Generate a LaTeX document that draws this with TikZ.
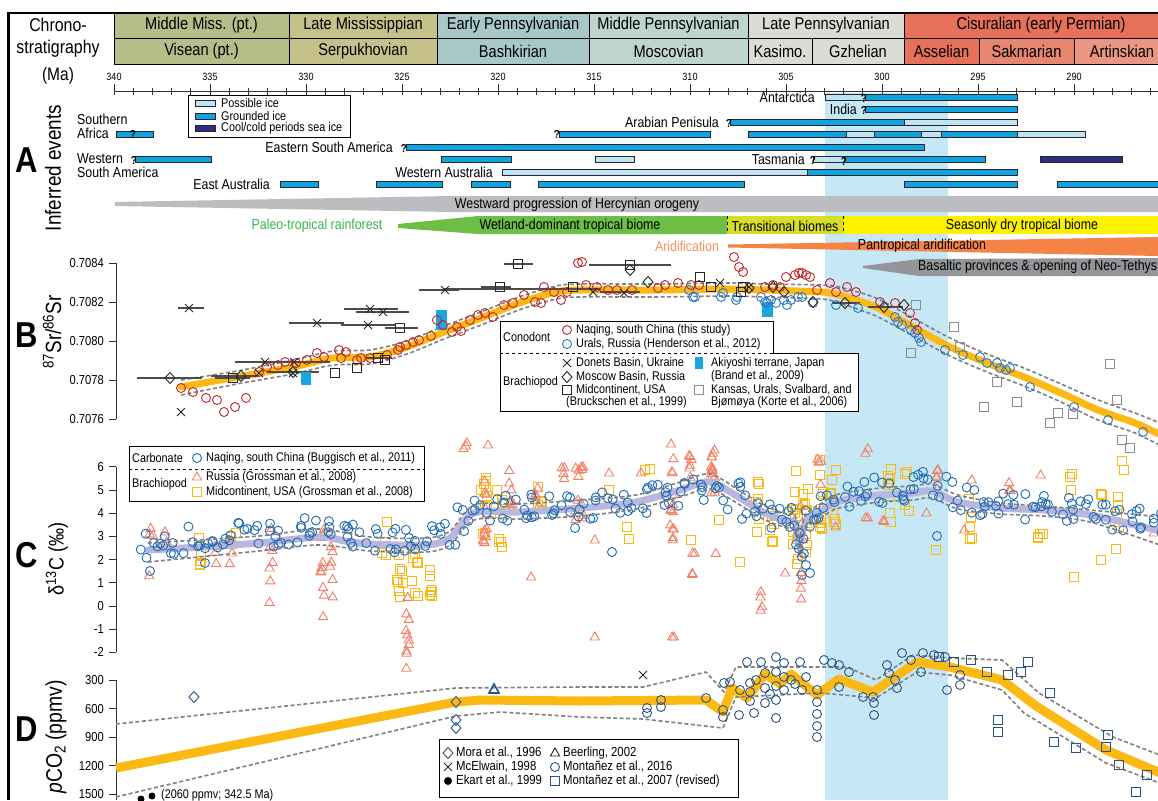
\documentclass[tikz,border=0pt]{standalone}
\usepackage{fontspec}
\setmainfont{Liberation Sans}[FakeStretch=0.86]

\definecolor{missA}{HTML}{B5BD88}
\definecolor{missB}{HTML}{C6C08A}
\definecolor{pennA}{HTML}{A8C7C8}
\definecolor{pennB}{HTML}{BDD5CE}
\definecolor{pennC}{HTML}{D9DCD7}
\definecolor{permA}{HTML}{E6705A}
\definecolor{permB}{HTML}{E8856F}
\definecolor{permC}{HTML}{EA9683}
\definecolor{possice}{HTML}{BFE4F6}
\definecolor{grdice}{HTML}{0FA4E1}
\definecolor{seaice}{HTML}{2B2E83}
\definecolor{band}{HTML}{C6E7F6}
\definecolor{hercyn}{HTML}{BCBDC0}
\definecolor{wetland}{HTML}{6DBE45}
\definecolor{transit}{HTML}{D7DE27}
\definecolor{dryb}{HTML}{FFF200}
\definecolor{rainf}{HTML}{39B54A}
\definecolor{arid}{HTML}{F58345}
\definecolor{aridtxt}{HTML}{F7935B}
\definecolor{basalt}{HTML}{939598}
\definecolor{srcurve}{HTML}{FDB913}
\definecolor{ccurve}{HTML}{BAB7DE}
\definecolor{naq}{HTML}{C1272D}
\definecolor{ural}{HTML}{2B78C5}
\definecolor{cblue}{HTML}{1E6CB4}
\definecolor{ctri}{HTML}{F47F67}
\definecolor{csq}{HTML}{FDB913}
\definecolor{dblue}{HTML}{2A5485}
\definecolor{akiy}{HTML}{1AA6E0}

\tikzset{
  cellbox/.style={draw=black, line width=0.7pt},
  celltxt/.style={font=\fontsize{17}{17}\selectfont, inner sep=0pt},
  axtick/.style={line width=0.7pt, draw=black!80},
  ticklab/.style={font=\fontsize{10.5}{10.5}\selectfont, inner sep=1pt},
  ylab/.style={font=\fontsize{13}{13}\selectfont, anchor=east, inner sep=1pt},
  bigl/.style={font=\bfseries\fontsize{36}{36}\selectfont, inner sep=0pt},
  axname/.style={font=\fontsize{22}{22}\selectfont, rotate=90, inner sep=0pt},
  evt/.style={font=\fontsize{14.4}{14.4}\selectfont, inner sep=1pt},
  legt/.style={font=\fontsize{12.6}{12.6}\selectfont, anchor=west, inner sep=1pt},
  icebar/.style={draw=black!85, line width=0.6pt},
  pice/.style={icebar, fill=possice},
  gice/.style={icebar, fill=grdice},
  sice/.style={icebar, fill=seaice},
  qm/.style={font=\bfseries\fontsize{11.5}{11.5}\selectfont, inner sep=0pt},
  dashband/.style={draw=black!50, line width=1.6pt, dash pattern=on 4pt off 2.5pt},
  rcirc/.style={draw=naq, line width=0.9pt},
  bcirc/.style={draw=ural, line width=0.9pt},
  cbl/.style={draw=cblue, line width=0.9pt},
  ctm/.style={draw=ctri, line width=0.9pt},
  csm/.style={draw=csq, line width=0.9pt},
  kmk/.style={draw=black!85, line width=0.9pt},
  gsq/.style={draw=black!45, line width=0.9pt},
  dmk/.style={draw=dblue, line width=0.9pt},
  ebar/.style={draw=black!70, line width=1.3pt},
}

\newcommand{\mkC}[2]{\draw[#1] #2 circle (4.5pt);}
\newcommand{\mkS}[2]{\draw[#1] #2 ++(-4.5pt,-4.5pt) rectangle ++(9pt,9pt);}
\newcommand{\mkT}[2]{\draw[#1] #2 ++(0pt,5pt) -- ++(4.6pt,-8pt) -- ++(-9.2pt,0pt) -- cycle;}
\newcommand{\mkD}[2]{\draw[#1] #2 ++(0pt,5.5pt) -- ++(5pt,-5.5pt) -- ++(-5pt,-5.5pt) -- ++(-5pt,5.5pt) -- cycle;}
\newcommand{\mkX}[2]{\draw[#1] #2 ++(-4pt,-4pt) -- ++(8pt,8pt) ++(-8pt,0pt) -- ++(8pt,-8pt);}

\begin{document}
\begin{tikzpicture}[x=1pt, y=-1pt]
  \clip (0,0) rectangle (1158,800);
  \fill[white] (0,0) rectangle (1158,800);
  \pgfmathsetseed{12}

  \fill[band] (825,93) rectangle (948,800);

  % chronostratigraphy
  \foreach \a/\b/\c/\t [count=\i] in {114/289/missA/Middle Miss. (pt.), 289/437/missB/Late Mississippian, 437/589/pennA/Early Pennsylvanian, 589/748/pennB/Middle Pennsylvanian, 748/904/pennC/Late Pennsylvanian, 904/1178/permA/Cisuralian (early Permian)}
  {\draw[cellbox, fill=\c] (\a,13) rectangle (\b,38);
   \node[celltxt] (ser\i) at ({(\a+\b)/2},25.5) {\t};}
  \foreach \a/\b/\c/\t [count=\i] in {114/289/missA/Visean (pt.), 289/437/missB/Serpukhovian, 437/589/pennA/Bashkirian, 589/748/pennB/Moscovian, 748/812/pennC/Kasimo., 812/904/pennC/Gzhelian, 904/979/permA/Asselian, 979/1074/permB/Sakmarian, 1074/1170/permC/Artinskian}
  {\draw[cellbox, fill=\c] (\a,38) rectangle (\b,64);
   \node[celltxt] (stg\i) at ({(\a+\b)/2},51) {\t};}
  \node[font=\fontsize{18.5}{22}\selectfont, align=center] (chrono) at (58,38) {Chrono-\\stratigraphy};
  \node[font=\fontsize{18}{18}\selectfont] (maunit) at (58,76) {(Ma)};
  \draw[line width=3pt] (8,12) -- (8,800);
  \draw[line width=1.8pt] (7,13) -- (1158,13);

  \draw[axtick] (114,91) -- (1158,91);
  \foreach \t in {0,...,55} {\draw[axtick] ({114+19.2*\t},87.5) -- ++(0,7);}
  \foreach \m in {340,335,...,285}
  {\draw[axtick] ({114+19.2*(340-\m)},84) -- ++(0,10);
   \node[ticklab] (ma\m) at ({114+19.2*(340-\m)},77) {\m};}

  % A: inferred events
  \node[bigl] (la) at (27,160) {A};
  \node[axname] (infer) at (53,168) {Inferred events};

  \draw[line width=0.7pt, fill=white] (188,95) rectangle (350,137);
  \draw[pice] (195,100) rectangle (215,106);
  \node[legt] (lpos) at (220,103) {Possible ice};
  \draw[gice] (195,113) rectangle (215,119);
  \node[legt] (lgrd) at (220,116) {Grounded ice};
  \draw[sice] (195,125) rectangle (215,131);
  \node[legt] (lsea) at (220,128) {Cool/cold periods sea ice};

  \foreach \a/\b/\y/\s in {825/865/97/pice, 865/1017/97/gice, 865/1017/109.5/gice, 730/904/122/gice, 904/1017/122/pice,
    116/153/134.5/gice, 559/710/134.5/gice, 748/846/134.5/gice, 846/874/134.5/pice, 874/921/134.5/gice, 921/941/134.5/pice, 941/1017/134.5/gice, 1017/1085/134.5/pice,
    406/924/147/gice,
    135/211/159.5/gice, 441/511/159.5/gice, 595/634/159.5/pice, 813/844/159.5/pice, 844/985/159.5/gice, 1040/1122/159.5/sice,
    502/807/172/pice, 807/1017/172/gice,
    280/318/184/gice, 376/442/184/gice, 471/510/184/gice, 538/744/184/gice, 904/1017/184/gice, 1057/1175/184/gice}
  {\draw[\s] (\a,\y-3) rectangle (\b,\y+3);}

  \foreach \x/\y [count=\i] in {133/134, 134/160, 404/148, 557/134, 864/98, 864/110, 729/123, 813/160, 844/161}
  {\node[qm] (q\i) at (\x,\y) {?};}

  \node[evt, anchor=west] (south1) at (76,119) {Southern};
  \node[evt, anchor=west] (south2) at (76,133) {Africa};
  \node[evt, anchor=east] (esam) at (394,147) {Eastern South America};
  \node[evt, anchor=west] (wsam1) at (76,159) {Western};
  \node[evt, anchor=west] (wsam2) at (76,172) {South America};
  \node[evt, anchor=east] (waus) at (494,172) {Western Australia};
  \node[evt, anchor=east] (eaus) at (271,184) {East Australia};
  \node[evt, anchor=east] (arab) at (720,122) {Arabian Penisula};
  \node[evt, anchor=east] (anta) at (816,97) {Antarctica};
  \node[evt, anchor=east] (indi) at (858,109) {India};
  \node[evt, anchor=east] (tasm) at (806,159) {Tasmania};

  \fill[hercyn] (115,202) -- (450,196) -- (1158,196) -- (1158,212) -- (450,212) -- (115,206) -- cycle;
  \node[evt] (herc) at (577,205) {Westward progression of Hercynian orogeny};

  \node[evt, text=rainf] (rain) at (317,226) {Paleo-tropical rainforest};
  \fill[wetland] (398,224) -- (478,216) -- (727,216) -- (727,234) -- (478,234) -- (398,228) -- cycle;
  \fill[transit] (727,216) rectangle (843,234);
  \fill[dryb] (843,216) rectangle (1158,234);
  \draw[dashed, line width=0.6pt] (727,216) -- (727,234) (843,216) -- (843,234);
  \node[evt] (wetl) at (570,226) {Wetland-dominant tropical biome};
  \node[evt] (trans) at (785,226) {Transitional biomes};
  \node[evt] (sdry) at (1022,226) {Seasonly dry tropical biome};

  \node[evt, text=aridtxt] (aridt) at (687,246) {Aridification};
  \fill[arid] (728,244.5) -- (1158,237) -- (1158,256) -- (728,247.5) -- cycle;
  \node[evt] (pant) at (922,246) {Pantropical aridification};

  \fill[basalt] (863,266) -- (919,259) -- (1158,258) -- (1158,276) -- (919,276) -- (863,268) -- cycle;
  \node[evt, anchor=west] (basa) at (917,267) {Basaltic provinces \& opening of Neo-Tethys};

  % B: strontium
  \node[bigl] (lb) at (27,335) {B};
  \node[axname] (srlab) at (52,332) {\textsuperscript{87}Sr/\textsuperscript{86}Sr};
  \draw[axtick] (116,263) -- (116,419);
  \foreach \v/\l in {0/0.7084, 1/0.7082, 2/0.7080, 3/0.7078, 4/0.7076}
  {\draw[axtick] (109,263+39*\v) -- (116,263+39*\v);
   \node[ylab] (sr\v) at (105,263+39*\v) {\l};}

  \draw[srcurve, line width=7pt, line cap=round] plot[smooth] coordinates {(181,387) (237,377) (293,367) (333,358) (370,357) (407,347) (444,332) (481,318) (519,303) (556,292) (580,290) (654,290) (728,289) (765,290) (821,292) (839,295) (876,307) (913,327) (950,347) (987,363) (1024,377) (1061,393) (1098,410) (1135,423) (1165,437)};
  \draw[dashband] plot[smooth] coordinates {(181,380) (237,371) (293,360) (333,351) (370,350) (407,341) (444,326) (481,312) (519,297) (556,286) (580,284) (654,284) (728,283) (765,284) (821,285) (839,287) (876,298) (913,318) (950,338) (987,354) (1024,368) (1061,384) (1098,400) (1135,413) (1165,425)};
  \draw[dashband] plot[smooth] coordinates {(181,395) (237,384) (293,374) (333,365) (370,364) (407,354) (444,339) (481,325) (519,310) (556,299) (580,297) (654,297) (728,296) (765,297) (821,299) (839,303) (876,316) (913,336) (950,356) (987,372) (1024,386) (1061,402) (1098,420) (1135,433) (1165,448)};

  \foreach \y/\a/\b in {308/178/204, 323/289/344, 309/344/398, 312/356/409, 325/341/396, 362/235/311, 362/240/330, 290/419/459, 289/444/600, 378/137/202, 376/211/259, 372/267/319, 303/832/860, 307/868/903, 378/215/250, 358/365/392, 328/385/418, 287/481/511, 264/504/533, 265/589/671, 292/600/640}
  {\draw[ebar] (\a,\y) -- (\b,\y);}
  \fill[akiy] (301,372) rectangle (311,385);
  \fill[akiy] (436,310) rectangle (447,330);
  \fill[akiy] (762,302) rectangle (773,317);

  \foreach \x/\y in {181/388, 193/392, 206/398, 217/400, 224/412, 235/407, 246/398, 259/372, 267/367, 278/365, 285/362, 296/363, 307/360, 317/353, 324/357, 339/350, 341/358, 346/352, 357/360, 361/358, 370/358, 387/355, 398/350, 400/347, 406/345, 413/342, 419/340, 431/336, 437/320, 443/325, 452/332, 457/327, 461/331, 470/320, 478/315, 485/313, 493/317, 504/305, 513/303, 524/295, 535/302, 541/303, 544/287, 554/292, 561/300, 567/292, 578/263, 582/262, 586/285, 597/287, 608/290, 617/290, 632/290, 658/288, 665/285, 678/283, 691/285, 699/285, 734/257, 739/267, 743/272, 765/287, 773/285, 780/287, 786/277, 795/275, 799/273, 802/273, 806/275, 810/277, 817/290, 830/283, 836/292, 847/287, 856/292, 880/302, 895/303, 910/313, 915/323, 917/330}
  {\mkC{rcirc}{(\x,\y)}}
  \foreach \x/\y in {689/290, 693/297, 695/297, 721/297, 723/293, 736/300, 737/297, 761/297, 765/302, 767/303, 771/300, 776/303, 784/300, 787/305, 791/300, 798/297, 802/297, 813/303, 836/305, 858/308, 895/317, 898/322, 902/325, 911/330, 915/333, 919/338, 921/342, 945/350, 963/355, 980/357, 987/363, 997/363, 1000/368, 1006/370, 1010/368, 1030/387, 1074/407, 1108/420, 1143/432}
  {\mkC{bcirc}{(\x,\y)}}
  \foreach \x/\y in {189/308, 181/412, 317/323, 370/309, 383/312, 368/325, 265/362, 294/362, 445/290, 259/373, 293/373, 593/292, 624/293, 749/287, 720/283}
  {\mkX{kmk}{(\x,\y)}}
  \foreach \x/\y in {170/378, 241/376, 293/372, 845/303, 884/307, 648/282, 630/270, 749/288, 773/287, 784/292, 813/302, 904/305}
  {\mkD{kmk}{(\x,\y)}}
  \foreach \x/\y in {233/378, 335/373, 357/368, 378/358, 385/360, 400/328, 500/287, 518/264, 573/287, 630/265, 700/277, 711/287, 743/287, 741/292}
  {\mkS{kmk}{(\x,\y)}}
  \foreach \x/\y in {916/305, 954/327, 960/347, 911/353, 997/382, 1017/402, 984/407, 1058/413, 1073/414, 1050/423, 1110/364, 1117/400, 1122/440, 1130/448}
  {\mkS{gsq}{(\x,\y)}}

  \draw[line width=0.8pt, fill=white] (500,321) -- (773,321) -- (773,353) -- (858,353) -- (858,411) -- (500,411) -- cycle;
  \draw[dashed, line width=0.8pt] (500,353) -- (773,353);
  \node[legt] (lcono) at (502,337) {Conodont};
  \mkC{rcirc}{(567,330)}
  \node[legt] (lnaq) at (575,330) {Naqing, south China (this study)};
  \mkC{bcirc}{(567,344)}
  \node[legt] (lural) at (575,344) {Urals, Russia (Henderson et al., 2012)};
  \node[legt] (lbrach) at (502,382) {Brachiopod};
  \mkX{kmk}{(567,363)}
  \node[legt] (ldon) at (575,363) {Donets Basin, Ukraine};
  \mkD{kmk}{(567,377)}
  \node[legt] (lmos) at (575,377) {Moscow Basin, Russia};
  \mkS{kmk}{(567,390)}
  \node[legt] (lmid) at (575,390) {Midcontinent, USA};
  \node[legt] (lbru) at (565,402) {(Bruckschen et al., 1999)};
  \fill[akiy] (695,357) rectangle (703,369);
  \node[legt] (laki) at (710,363) {Akiyoshi terrane, Japan};
  \node[legt] (lbra) at (710,376) {(Brand et al., 2009)};
  \mkS{gsq}{(699,390)}
  \node[legt] (lkan) at (710,390) {Kansas, Urals, Svalbard, and};
  \node[legt] (lkor) at (710,402) {Bjømøya (Korte et al., 2006)};

  % C: carbon isotopes
  \node[bigl] (lc) at (27,555) {C};
  \node[axname, font=\fontsize{21}{21}\selectfont] (clab) at (57,559) {δ\textsuperscript{13}C (‰)};
  \draw[axtick] (116,467) -- (116,652);
  \foreach \d in {6,5,...,-2}
  {\draw[axtick] (109,606-23.2*\d) -- (116,606-23.2*\d);
   \node[ylab] (dc\d) at (105,606-23.2*\d) {\d};}

  \foreach \x/\ya/\yb/\n in {200/520/570/5, 233/530/540/2, 385/520/560/4, 400/553/600/8, 415/553/600/8, 430/553/602/6, 484/477/550/10, 500/477/550/8, 540/477/510/4, 610/490/490/1, 628/523/540/2, 647/467/478/2, 691/540/540/1, 721/520/520/1, 741/562/562/1, 756/477/533/6, 772/513/560/6, 795/467/567/12, 806/467/567/10, 822/457/530/10, 833/457/530/8, 889/463/560/8, 906/470/530/4, 937/550/550/1, 971/470/543/5, 1040/510/543/4, 1072/468/490/3, 1073/577/577/1, 1100/490/497/2, 1100/560/560/1, 1117/497/560/6, 1123/457/470/2}
  {\foreach \k in {1,...,\n}
   {\pgfmathsetmacro{\yy}{\ya+rnd*(\yb-\ya)}
    \mkS{csm}{(\x+3*rand,\yy)}}}
  \foreach \x/\ya/\yb/\n in {151/528/582/4, 167/530/562/2, 216/522/565/3, 231/522/582/5, 271/527/605/7, 322/510/617/10, 331/510/647/7, 408/593/683/10, 465/442/455/3, 487/445/445/1, 485/467/543/12, 511/463/513/8, 530/577/577/1, 537/487/510/5, 563/465/480/4, 577/467/530/6, 582/463/540/6, 593/540/540/1, 611/473/473/1, 641/473/473/1, 672/443/540/14, 690/455/497/6, 713/443/493/14, 673/637/637/1, 693/553/555/2, 717/553/555/1, 691/573/577/2, 760/583/613/4, 784/573/573/1, 801/497/600/8, 819/457/497/4, 837/527/527/1, 866/445/457/2, 866/507/523/2, 885/517/523/2, 926/513/513/1, 937/463/523/5, 963/530/530/1, 971/480/480/1, 1011/480/492/3, 1041/475/475/1, 1154/533/533/1, 595/637/637/1, 671/637/637/1}
  {\foreach \k in {1,...,\n}
   {\pgfmathsetmacro{\yy}{\ya+rnd*(\yb-\ya)}
    \mkT{ctm}{(\x+2*rand,\yy)}}}

  \draw[ccurve, line width=7pt, line cap=round] plot[smooth] coordinates {(148,550) (200,547) (259,543) (319,537) (345,541) (370,544) (426,545) (450,538) (474,513) (519,512) (581,508) (636,502) (680,490) (710,482) (740,498) (765,513) (787,521) (795,522) (799,545) (806,521) (822,510) (839,501) (880,495) (913,493) (932,491) (958,502) (1000,508) (1043,510) (1090,515) (1160,531)};
  \foreach \x/\y in {148/545, 163/544, 178/542, 193/540, 208/539, 223/537, 238/536, 253/535, 268/533, 283/532, 298/531, 313/530, 328/532, 343/535, 358/538, 373/540, 388/540, 403/540, 418/540, 433/538, 448/533, 463/520, 478/510, 493/509, 508/508, 523/508, 538/507, 553/507, 568/506, 583/506, 598/505, 613/504, 628/502, 643/500, 658/497, 673/494, 688/490, 703/488, 718/490, 733/496, 748/505, 763/511, 778/518, 790/521, 797/535, 803/540, 810/518, 825/505, 840/496, 855/493, 870/491, 885/490, 900/488, 915/487, 930/485, 945/490, 960/497, 975/502, 990/504, 1005/506, 1020/507, 1035/508, 1050/509, 1065/510, 1080/511, 1095/513, 1110/516, 1125/519, 1140/522, 1155/526}
  {\foreach \k in {1,...,4}
   {\mkC{cbl}{(\x+7.5*rand,\y+14*rand)}}}
  \foreach \x/\y in {802/557, 806/565, 810/573, 802/575, 937/536, 150/571, 205/563, 575/528, 612/552}
  {\mkC{cbl}{(\x,\y)}}
  \draw[dashband] plot[smooth] coordinates {(148,543) (259,536) (319,529) (370,537) (426,538) (450,531) (474,505) (519,504) (581,500) (636,495) (680,482) (710,474) (740,491) (765,506) (787,514) (795,515) (799,538) (806,514) (822,503) (839,494) (880,488) (913,486) (932,484) (958,495) (1000,503) (1043,506) (1090,510) (1160,517)};
  \draw[dashband] plot[smooth] coordinates {(148,562) (259,551) (319,545) (370,551) (426,552) (450,545) (474,520) (519,519) (581,516) (636,509) (680,497) (710,489) (740,505) (765,520) (787,528) (795,529) (799,552) (806,528) (822,517) (839,508) (880,502) (913,500) (932,498) (958,509) (1000,514) (1043,516) (1090,522) (1160,545)};

  \draw[line width=0.8pt, fill=white] (129,446) rectangle (424,501);
  \draw[dashed, line width=0.8pt] (129,469) -- (424,469);
  \node[legt] (lcarb) at (131,458) {Carbonate};
  \mkC{cbl}{(197,458)}
  \node[legt] (lbug) at (205,458) {Naqing, south China (Buggisch et al., 2011)};
  \node[legt] (lbrc) at (131,484) {Brachiopod};
  \mkT{ctm}{(197,477)}
  \node[legt] (lrus) at (205,477) {Russia (Grossman et al., 2008)};
  \mkS{csm}{(197,492)}
  \node[legt] (lmdc) at (205,492) {Midcontinent, USA (Grossman et al., 2008)};

  % D: pCO2
  \node[bigl] (ld) at (27,729) {D};
  \node[axname, font=\fontsize{22.5}{22.5}\selectfont] (dlab) at (56,737) {\textit{p}CO\textsubscript{2} (ppmv)};
  \draw[axtick] (116,680) -- (116,800);
  \foreach \p [count=\k from 0] in {300,600,900,1200,1500}
  {\draw[axtick] (109,680+28.6*\k) -- (116,680+28.6*\k);
   \node[ylab] (pc\p) at (105,680+28.6*\k) {\p};}

  \draw[srcurve, line width=9pt, line join=round] (116,768) -- (456,702) -- (481,700) -- (580,701) -- (706,700) -- (723,712) -- (732,688) -- (747,698) -- (765,674) -- (780,684) -- (791,674) -- (817,695) -- (839,679) -- (873,692) -- (895,677) -- (917,662) -- (950,667) -- (1002,680) -- (1036,706) -- (1106,750) -- (1165,775);
  \draw[dashband, line join=round] (116,724) -- (456,688) -- (580,687) -- (643,687) -- (706,672) -- (724,692) -- (736,667) -- (824,667) -- (847,667) -- (876,680) -- (913,655) -- (950,658) -- (1002,660) -- (1039,693) -- (1113,737) -- (1165,757);
  \draw[dashband, line join=round] (116,797) -- (456,716) -- (500,712) -- (580,717) -- (643,719) -- (723,728) -- (736,697) -- (821,693) -- (876,698) -- (917,672) -- (950,675) -- (1002,690) -- (1024,713) -- (1106,763) -- (1165,785);

  \foreach \x/\y in {647/708, 647/713, 661/700, 661/707, 706/698, 723/710, 723/717, 724/683, 730/682, 739/715, 747/662, 750/683, 750/692, 750/701, 754/713, 761/662, 765/673, 765/688, 765/703, 776/657, 776/672, 776/686, 776/700, 776/718, 784/663, 784/677, 784/690, 791/680, 800/662, 802/690, 806/677, 817/690, 817/702, 817/714, 817/726, 817/737, 824/660, 832/663, 839/687, 839/665, 849/672, 863/697, 873/697, 874/703, 874/715, 887/665, 889/673, 895/680, 897/688, 902/653, 911/660, 921/672, 923/653, 934/655, 945/657, 947/690, 960/675, 960/685, 740/690, 756/680, 770/694, 795/684}
  {\mkC{dmk}{(\x,\y)}}
  \foreach \x/\y in {939/657, 954/662, 971/660, 987/672, 1008/675, 1021/672, 1028/662, 1050/693, 998/720, 998/732, 1054/742, 1076/748, 1108/735, 1106/747, 1119/765, 1147/775, 1136/792}
  {\mkS{dmk}{(\x,\y)}}
  \foreach \x/\y in {194/697, 456/702, 456/720, 456/728}
  {\mkD{dmk}{(\x,\y)}}
  \mkX{kmk}{(643,675)}
  \draw[dblue, line width=1.6pt] (494,684) -- (499,693) -- (489,693) -- cycle;
  \fill (141,799) circle (3.5pt) (152,796) circle (3.5pt);
  \node[legt] (ekmax) at (160,795) {(2060 ppmv; 342.5 Ma)};

  \draw[line width=0.8pt, fill=white] (439,739) rectangle (738,797);
  \mkD{dmk}{(448,753)}
  \node[legt, font=\fontsize{13.2}{13.2}\selectfont] (lmora) at (455,753) {Mora et al., 1996};
  \mkX{kmk}{(448,767)}
  \node[legt, font=\fontsize{13.2}{13.2}\selectfont] (lmce) at (455,767) {McElwain, 1998};
  \fill (448,781) circle (4pt);
  \node[legt, font=\fontsize{13.2}{13.2}\selectfont] (lekart) at (455,781) {Ekart et al., 1999};
  \mkT{kmk}{(555,753)}
  \node[legt, font=\fontsize{13.2}{13.2}\selectfont] (lbeer) at (562,753) {Beerling, 2002};
  \mkC{dmk}{(555,767)}
  \node[legt, font=\fontsize{13.2}{13.2}\selectfont] (lmon1) at (562,767) {Montañez et al., 2016};
  \mkS{dmk}{(555,781)}
  \node[legt, font=\fontsize{13.2}{13.2}\selectfont] (lmon2) at (562,781) {Montañez et al., 2007 (revised)};
\end{tikzpicture}
\end{document}
